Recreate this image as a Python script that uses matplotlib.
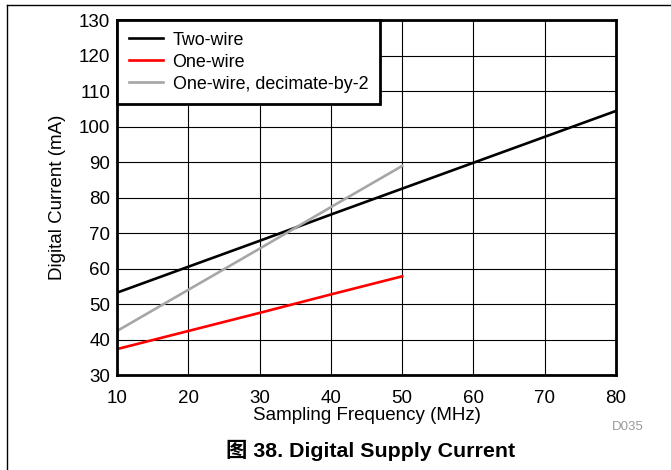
import matplotlib
matplotlib.use("Agg")
import matplotlib.pyplot as plt
from matplotlib.lines import Line2D
import numpy as np

matplotlib.rcParams['font.family'] = ['Liberation Sans', 'Noto Sans CJK SC', 'DejaVu Sans']
matplotlib.rcParams['font.size'] = 13.5

freq_two = [10, 20, 30, 40, 50, 60, 70, 80]
two_wire = [53.2, 60.5, 67.8, 75.2, 82.5, 89.8, 97.1, 104.4]
freq_one = [10, 20, 30, 40, 50]
one_wire = [37.3, 42.4, 47.5, 52.7, 57.8]
one_wire_dec2 = [42.4, 54.0, 65.6, 77.3, 88.9]

fig = plt.figure(figsize=(6.71, 4.70), dpi=100)
ax = fig.add_axes([0.1744, 0.2021, 0.7437, 0.7553])

ax.plot(freq_two, two_wire, color="black", lw=1.9, label="Two-wire")
ax.plot(freq_one, one_wire, color="#ff0000", lw=1.9, label="One-wire")
ax.plot(freq_one, one_wire_dec2, color="#a6a6a6", lw=1.9, label="One-wire, decimate-by-2")

ax.set_xlim(10, 80)
ax.set_ylim(30, 130)
ax.set_xticks(np.arange(10, 81, 10))
ax.set_yticks(np.arange(30, 131, 10))
ax.grid(color="black", lw=0.8)
ax.tick_params(length=0, labelsize=13.5)
ax.tick_params(axis="x", pad=11)
ax.tick_params(axis="y", pad=5)
for s in ax.spines.values():
    s.set_linewidth(2)
ax.set_xlabel("Sampling Frequency (MHz)", fontsize=13.5, labelpad=0)
ax.set_ylabel("Digital Current (mA)", fontsize=13.5, labelpad=9)

leg = ax.legend(loc="upper left", fontsize=12.9, fancybox=False, framealpha=1,
                borderaxespad=0, handlelength=1.9, labelspacing=0.28,
                borderpad=0.65, handletextpad=0.55)
leg.get_frame().set_edgecolor("black")
leg.get_frame().set_linewidth(2)

fig.text(0.936, 0.091, "D035", color="#999999", fontsize=9.5, ha="center", va="center")
fig.text(0.552, 0.042, "图 38. Digital Supply Current", fontsize=15.4, fontweight="bold",
         ha="center", va="center")

fig.add_artist(Line2D([0.011, 0.011], [0, 0.989], color="black", lw=1))
fig.add_artist(Line2D([0.011, 1], [0.989, 0.989], color="black", lw=1))

plt.savefig("out.png", dpi=100)
plt.close()
